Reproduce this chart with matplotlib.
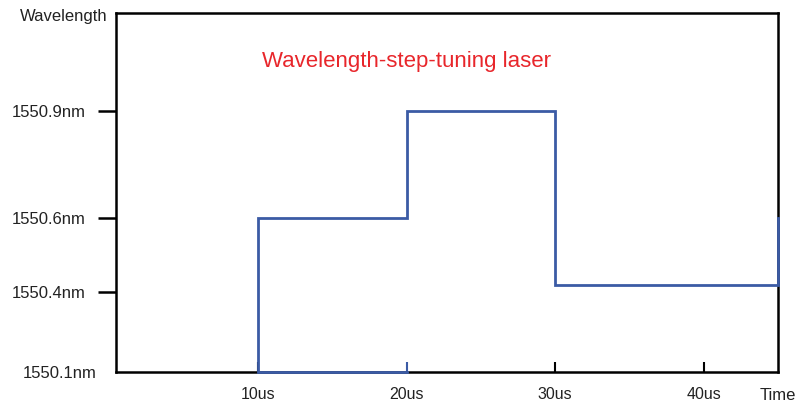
import numpy as np
import matplotlib
matplotlib.use("Agg")
import matplotlib.pyplot as plt

plt.rcParams['font.family'] = ['Liberation Sans', 'DejaVu Sans']

# step path of the tuned wavelength (time in us, wavelength in nm)
time_us = [20, 10, 10, 20, 20, 30, 30, 45, 45]
wave_nm = [1550.1, 1550.1, 1550.6, 1550.6, 1550.9, 1550.9, 1550.42, 1550.42, 1550.6]

xticks = [10, 20, 30, 40]
xtick_labels = ['10us', '20us', '30us', '40us']
yticks = [1550.4, 1550.6, 1550.9]
ytick_labels = ['1550.4nm', '1550.6nm', '1550.9nm']

blue = '#3b5ba5'
txt = '#222222'

# the sketch's wavelength axis is not evenly spaced; piecewise scale
knots_w = np.array([1550.1, 1550.4, 1550.6, 1550.9, 1551.2])
knots_p = np.array([0.0, 80.0, 154.0, 261.0, 359.0])

def fwd(v):
    return np.interp(v, knots_w, knots_p)

def inv(v):
    return np.interp(v, knots_p, knots_w)

fig = plt.figure(figsize=(8.04, 4.04), dpi=100)
ax = fig.add_axes([116/804, 32/404, 662/804, 359/404])
ax.set_yscale('function', functions=(fwd, inv))

ax.plot(time_us, wave_nm, color=blue, lw=2.0, clip_on=False, zorder=3,
        solid_joinstyle='miter')

ax.set_xlim(0.45, 45)
ax.set_ylim(1550.1, 1551.2)

for s in ax.spines.values():
    s.set_linewidth(1.8)
    s.set_color('black')

ax.set_xticks(xticks)
ax.set_xticklabels(xtick_labels)
ax.tick_params(axis='x', direction='in', length=7, width=1.5, pad=11,
               labelsize=11.5, labelcolor=txt)

ax.set_yticks(yticks)
ax.set_yticklabels(ytick_labels)
ax.set_yticks([1550.1], minor=True)
ax.set_yticklabels(['1550.1nm'], minor=True)
ax.tick_params(axis='y', which='major', direction='out', length=13, width=1.8,
               pad=9, labelsize=12, labelcolor=txt)
ax.tick_params(axis='y', which='minor', length=0, pad=14,
               labelsize=12, labelcolor=txt)

fig.text(20/804, 1 - 16/404, 'Wavelength', fontsize=12, color=txt,
         va='center', ha='left')
fig.text(760/804, 1 - 396/404, 'Time', fontsize=12, color=txt,
         va='center', ha='left')
ax.text(0.22, 0.865, 'Wavelength-step-tuning laser', transform=ax.transAxes,
        fontsize=16, color='#e8262b', ha='left', va='center')

fig.canvas.draw()
t20 = ax.xaxis.get_major_ticks()[1].tick1line
t20.set_markeredgecolor(blue)

fig.savefig('out.png', dpi=100)
